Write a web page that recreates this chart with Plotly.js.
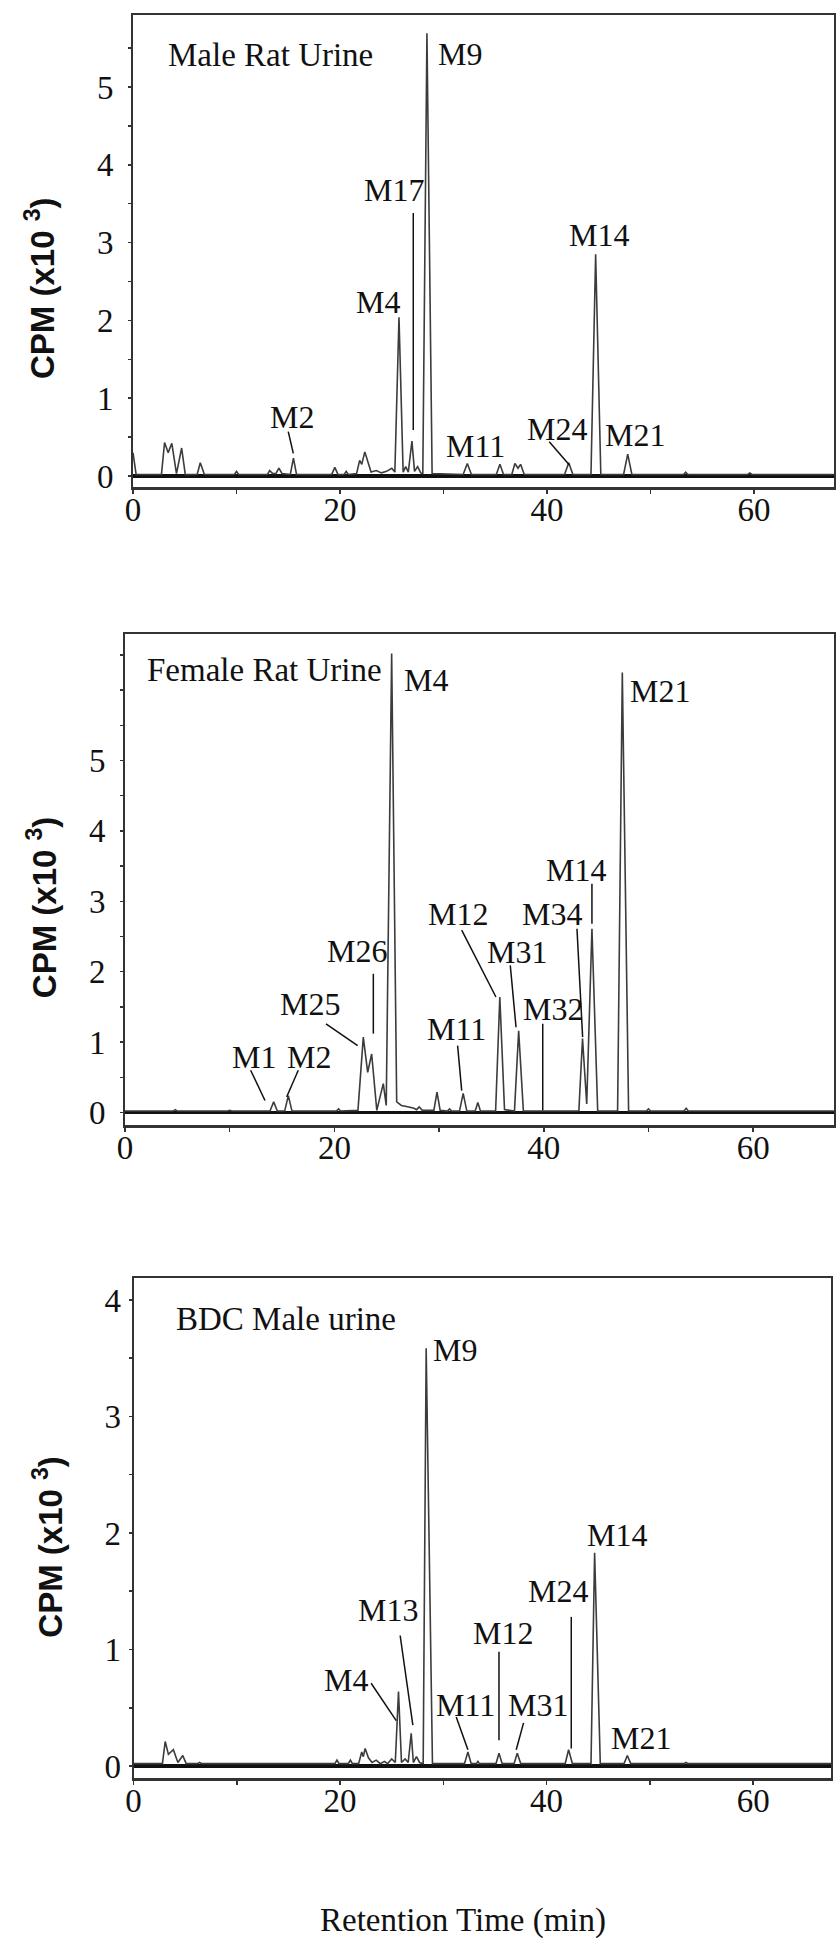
<!DOCTYPE html>
<html><head><meta charset="utf-8">
<script src="https://cdn.plot.ly/plotly-3.0.1.min.js"></script>
<style>html,body{margin:0;padding:0;background:#fff}#chart{width:836px;height:1938px}</style>
</head><body><div id="chart"></div>
<script>
const maleTime = [0,0.3,2.75,3.05,3.4,3.75,4.2,4.7,5.05,6.2,6.5,6.9,9.8,10.0,10.2,13.0,13.2,13.5,13.8,14.1,14.4,15.2,15.5,15.8,19.2,19.5,19.8,20.4,20.6,20.8,21.6,21.9,22.1,22.4,22.7,23.0,23.5,24.0,24.5,25.0,25.3,25.7,26.1,26.35,26.6,26.95,27.2,27.5,27.8,28.0,28.4,28.9,31.9,32.3,32.7,35.1,35.45,35.8,36.6,36.9,37.2,37.45,37.8,41.7,42.1,42.5,44.25,44.7,45.2,47.4,47.8,48.2,53.2,53.4,53.6,59.4,59.6,59.8,67.7];
const maleCpm  = [0.3,0.02,0.02,0.43,0.3,0.42,0.03,0.36,0.02,0.02,0.17,0.02,0.02,0.06,0.02,0.02,0.07,0.03,0.03,0.1,0.03,0.02,0.23,0.02,0.02,0.11,0.02,0.02,0.06,0.02,0.03,0.2,0.15,0.31,0.18,0.05,0.07,0.04,0.06,0.1,0.05,2.04,0.05,0.12,0.05,0.45,0.06,0.12,0.04,0.03,5.69,0.03,0.02,0.16,0.02,0.02,0.15,0.02,0.02,0.16,0.1,0.15,0.02,0.02,0.17,0.02,0.02,2.85,0.02,0.02,0.28,0.02,0.02,0.05,0.02,0.02,0.04,0.02,0.02];
const maleLabels = ['Male Rat Urine','M9','M17','M4','M2','M11','M24','M14','M21'];
const maleLabelT = [13.24,31.64,25.2,23.67,15.41,33.1,41.0,45.0,48.55];
const maleLabelC = [5.41,5.42,3.68,2.24,0.76,0.38,0.61,3.10,0.53];
const maleLeadT0 = [15.0,27.08,40.22];
const maleLeadC0 = [0.57,3.38,0.44];
const maleLeadT1 = [15.49,27.08,42.16];
const maleLeadC1 = [0.29,0.59,0.14];

// ---------- Panel 2: Female Rat Urine ----------
const femTime = [0,4.6,4.8,5.0,9.8,10.0,10.2,13.85,14.2,14.55,15.25,15.6,15.95,20.2,20.4,20.6,22.25,22.76,23.18,23.56,24.05,24.67,24.95,25.47,25.95,26.4,27.0,27.6,27.85,28.1,28.4,29.5,29.8,30.1,30.8,31.0,31.2,31.95,32.3,32.65,33.45,33.7,33.95,35.4,35.8,36.25,37.2,37.6,38.05,43.35,43.7,44.1,44.6,45.15,47.05,47.5,48.1,49.8,50.0,50.2,53.4,53.6,53.8,67.7];
const femCpm  = [0.02,0.02,0.04,0.02,0.02,0.03,0.02,0.02,0.15,0.02,0.02,0.24,0.02,0.02,0.05,0.02,0.03,1.07,0.57,0.83,0.03,0.41,0.1,6.52,0.15,0.1,0.08,0.06,0.04,0.08,0.03,0.03,0.29,0.03,0.02,0.05,0.02,0.02,0.27,0.02,0.02,0.14,0.02,0.02,1.64,0.04,0.02,1.16,0.02,0.02,1.05,0.12,2.61,0.02,0.02,6.25,0.02,0.02,0.05,0.02,0.02,0.06,0.02,0.02];
const femLabels = ['Female Rat Urine','M4','M21','M14','M34','M12','M31','M32','M11','M26','M25','M1','M2'];
const femLabelT = [13.34,28.73,51.1,43.08,40.77,31.85,37.42,40.85,31.69,22.14,17.67,12.34,17.56];
const femLabelC = [6.28,6.14,5.99,3.44,2.82,2.82,2.28,1.47,1.19,2.30,1.54,0.79,0.79];
const femLeadT0 = [12.0,16.55,19.2,23.72,31.77,32.16,36.8,39.9,43.17,44.6];
const femLeadC0 = [0.6,0.6,1.26,1.97,0.95,2.59,2.09,1.26,2.61,3.25];
const femLeadT1 = [13.37,15.44,22.22,23.72,32.16,35.43,37.35,39.9,43.71,44.6];
const femLeadC1 = [0.17,0.22,0.95,1.12,0.31,1.64,1.21,0.03,1.07,2.68];

// ---------- Panel 3: BDC Male urine ----------
const bdcTime = [0,2.8,3.07,3.38,3.86,4.3,4.77,5.1,6.2,6.4,6.6,19.5,19.7,19.9,20.8,21.0,21.2,21.8,22.1,22.25,22.43,22.75,23.1,23.5,23.9,24.3,24.6,25.0,25.35,25.66,25.95,26.3,26.6,26.89,27.1,27.4,27.7,28.05,28.34,28.95,32.05,32.38,32.7,33.2,33.35,33.5,35.1,35.39,35.7,36.85,37.16,37.5,41.8,42.13,42.5,44.3,44.65,45.2,47.5,47.82,48.15,53.3,53.5,53.7,67.6];
const bdcCpm  = [0.02,0.02,0.21,0.1,0.14,0.03,0.09,0.02,0.02,0.03,0.02,0.02,0.05,0.02,0.02,0.05,0.02,0.02,0.12,0.08,0.15,0.07,0.03,0.05,0.02,0.04,0.02,0.06,0.03,0.64,0.03,0.06,0.03,0.28,0.03,0.08,0.03,0.02,3.585,0.02,0.02,0.12,0.02,0.02,0.04,0.02,0.02,0.11,0.02,0.02,0.11,0.02,0.02,0.14,0.02,0.02,1.83,0.02,0.02,0.09,0.02,0.02,0.03,0.02,0.02];
const bdcLabels = ['BDC Male urine','M9','M14','M24','M12','M13','M4','M11','M31','M21'];
const bdcLabelT = [14.76,31.1,46.83,41.15,35.77,24.63,20.59,32.14,39.17,49.18];
const bdcLabelC = [3.84,3.57,1.98,1.50,1.14,1.34,0.74,0.52,0.52,0.24];
const bdcLeadT0 = [23.01,25.82,31.25,35.39,37.77,42.39];
const bdcLeadC0 = [0.71,1.12,0.42,0.98,0.37,1.28];
const bdcLeadT1 = [25.44,27.05,32.38,35.39,37.06,42.39];
const bdcLeadC1 = [0.39,0.35,0.14,0.22,0.14,0.15];

const xTitle = 'Retention Time (min)';
const yTitle = 'CPM (x10 <sup>3</sup>)';

// ---------- build ----------
const SERIF = 'Liberation Serif, Times New Roman, serif';
const SANS = 'Liberation Sans, Arial, sans-serif';
const lineStyle = {color:'#3c3c3c', width:1.6};

const panels = [
  {t:maleTime, c:maleCpm, L:maleLabels, LT:maleLabelT, LC:maleLabelC, a:[maleLeadT0,maleLeadC0,maleLeadT1,maleLeadC1], ax:''},
  {t:femTime, c:femCpm, L:femLabels, LT:femLabelT, LC:femLabelC, a:[femLeadT0,femLeadC0,femLeadT1,femLeadC1], ax:'2'},
  {t:bdcTime, c:bdcCpm, L:bdcLabels, LT:bdcLabelT, LC:bdcLabelC, a:[bdcLeadT0,bdcLeadC0,bdcLeadT1,bdcLeadC1], ax:'3'}
];

const data = panels.map(p => ({
  type:'scatter', mode:'lines', x:p.t, y:p.c,
  xaxis:'x'+p.ax, yaxis:'y'+p.ax, line:lineStyle, hoverinfo:'skip', showlegend:false
}));

const annotations = [];
const shapes = [];
panels.forEach(p => {
  p.L.forEach((txt,i) => annotations.push({
    text:txt, x:p.LT[i], y:p.LC[i], xref:'x'+p.ax, yref:'y'+p.ax,
    showarrow:false, xanchor:'center', yanchor:'middle',
    font:{family:SERIF, size: i===0 ? 33 : 32, color:'#111'}
  }));
  const [t0,c0,t1,c1] = p.a;
  t0.forEach((v,i) => shapes.push({
    type:'line', xref:'x'+p.ax, yref:'y'+p.ax, x0:v, y0:c0[i], x1:t1[i], y1:c1[i],
    line:{color:'#111', width:1.5}
  }));
});

// axis titles
[[40,288],[41.7,907.5],[48,1546.7]].forEach(([px,py]) => annotations.push({
  text:yTitle, xref:'paper', yref:'paper', x:px/836, y:1-py/1938,
  xanchor:'center', yanchor:'middle', textangle:-90, showarrow:false,
  font:{family:SANS, size:33, color:'#111', weight:'bold'}
}));
annotations.push({
  text:xTitle, xref:'paper', yref:'paper', x:463/836, y:1-1920/1938,
  xanchor:'center', yanchor:'middle', showarrow:false,
  font:{family:SERIF, size:33, color:'#111'}
});

const tickFont = {family:SERIF, size:33, color:'#111'};
function xax(domain, range, anchor){
  return {domain, range, anchor, showline:true, linecolor:'#333', linewidth:2.5, mirror:true,
    ticks:'outside', ticklen:4, tickwidth:1.5, tickcolor:'#333', tick0:0, dtick:20,
    ticklabelstandoff:-12,
    minor:{dtick:10, tick0:0, ticks:'outside', ticklen:4, tickcolor:'#333', tickwidth:1.5},
    showgrid:false, zeroline:false, tickfont:tickFont, fixedrange:true};
}
function yax(domain, range, anchor, tickvals, standoff){
  return {domain, range, anchor, showline:true, linecolor:'#333', linewidth:2, mirror:true,
    ticks:'outside', ticklen:3, tickwidth:1.5, tickcolor:'#333',
    tickmode:'array', tickvals, ticklabelstandoff:standoff,
    minor:{tickmode:'linear', tick0:0, dtick:0.5, ticks:'outside', ticklen:3, tickcolor:'#333', tickwidth:1.5},
    showgrid:false, zeroline:true, zerolinecolor:'#111', zerolinewidth:3.5,
    tickfont:tickFont, fixedrange:true};
}

const layout = {
  width:836, height:1938, margin:{l:0,r:0,t:0,b:0},
  paper_bgcolor:'#fff', plot_bgcolor:'#fff', showlegend:false,
  xaxis:  xax([133/836, 834/836], [0, 67.73], 'y'),
  yaxis:  yax([1-487/1938, 1-15/1938], [-0.1414, 5.925], 'x', [0,1,2,3,4,5], 8),
  xaxis2: xax([125/836, 834/836], [0, 67.72], 'y2'),
  yaxis2: yax([1-1125/1938, 1-634/1938], [-0.178, 6.797], 'x2', [0,1,2,3,4,5], 8),
  xaxis3: xax([133.5/836, 831/836], [0, 67.54], 'y3'),
  yaxis3: yax([1-1778/1938, 1-1278.3/1938], [-0.103, 4.186], 'x3', [0,1,2,3,4], 1),
  annotations, shapes
};

Plotly.newPlot('chart', data, layout, {staticPlot:true, displayModeBar:false});
</script>
</body></html>
